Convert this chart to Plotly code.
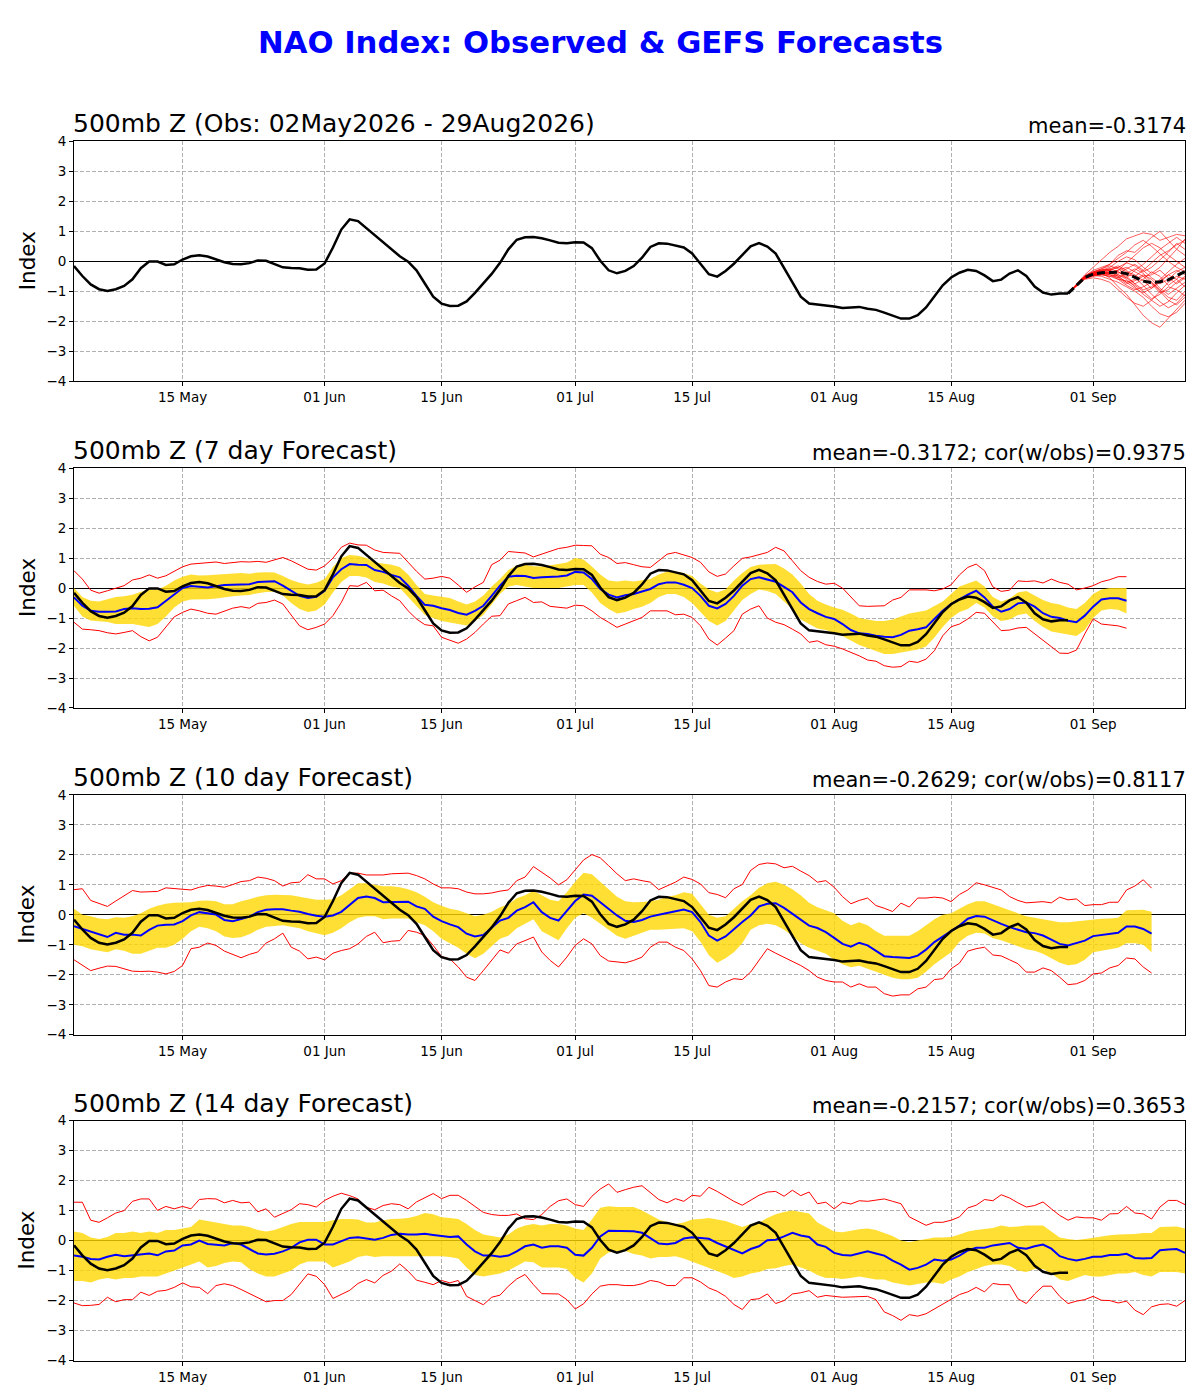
import pandas as pd
import plotly.graph_objects as go

START = "2026-05-02"

# ---------------- observed NAO (02 May - 29 Aug) ----------------
obs = [-0.16,-0.49,-0.77,-0.93,-0.99,-0.93,-0.82,-0.6,-0.23,-0.01,
       -0.01,-0.12,-0.1,0.06,0.17,0.2,0.16,0.06,-0.03,-0.09,
       -0.1,-0.06,0.03,0.02,-0.1,-0.2,-0.22,-0.23,-0.28,-0.27,
       -0.07,0.46,1.06,1.4,1.34,1.1,0.86,0.62,0.39,0.17,
       -0.01,-0.3,-0.74,-1.18,-1.41,-1.49,-1.48,-1.34,-1.05,-0.73,
       -0.42,-0.05,0.4,0.72,0.8,0.81,0.77,0.7,0.62,0.6,
       0.64,0.63,0.44,0.02,-0.3,-0.4,-0.32,-0.16,0.12,0.48,
       0.6,0.59,0.52,0.46,0.26,-0.1,-0.43,-0.51,-0.32,-0.08,
       0.21,0.5,0.61,0.49,0.26,-0.21,-0.71,-1.18,-1.41,-1.44,
       -1.47,-1.51,-1.56,-1.54,-1.52,-1.58,-1.62,-1.71,-1.82,-1.91,
       -1.91,-1.8,-1.54,-1.18,-0.8,-0.54,-0.38,-0.28,-0.32,-0.47,
       -0.66,-0.61,-0.41,-0.3,-0.49,-0.84,-1.04,-1.11,-1.07,-1.07]

# ---------------- GEFS ensemble (29 Aug - 12 Sep) ----------------
ens_start = "2026-08-29"
ens_mean = [-1.07,-0.8,-0.54,-0.43,-0.38,-0.37,-0.36,-0.41,-0.54,-0.66,-0.71,-0.68,-0.62,-0.49,-0.34]
members = [
    [-0.75,-0.45,-0.2,0.05,0.3,0.5,0.75,0.85,0.95,0.9,0.7,0.8,0.9,0.85],
    [-0.8,-0.55,-0.45,-0.4,-0.55,-0.85,-1.1,-1.45,-1.8,-2.05,-2.2,-1.9,-1.6,-1.3],
    [-0.78,-0.5,-0.3,-0.2,-0.1,0.2,0.35,0.3,0.55,0.8,1.0,0.7,0.4,0.2],
    [-0.82,-0.6,-0.55,-0.6,-0.7,-0.95,-1.2,-1.4,-1.5,-1.3,-1.0,-0.7,-0.5,-0.6],
    [-0.8,-0.52,-0.4,-0.3,-0.25,-0.15,-0.3,-0.55,-0.8,-1.1,-1.35,-1.55,-1.4,-1.1],
    [-0.76,-0.48,-0.35,-0.3,-0.2,0.0,0.15,0.05,-0.2,-0.4,-0.2,0.1,0.4,0.75],
    [-0.8,-0.58,-0.5,-0.45,-0.35,-0.5,-0.7,-0.6,-0.45,-0.6,-0.9,-1.1,-0.9,-0.7],
    [-0.79,-0.55,-0.42,-0.35,-0.4,-0.3,-0.05,0.2,0.45,0.6,0.45,0.2,0.0,-0.2],
    [-0.81,-0.56,-0.47,-0.5,-0.6,-0.7,-0.85,-1.0,-1.2,-1.5,-1.75,-1.85,-1.7,-1.4],
    [-0.78,-0.52,-0.38,-0.28,-0.3,-0.45,-0.55,-0.75,-0.95,-0.85,-0.6,-0.35,-0.1,0.1],
    [-0.8,-0.5,-0.35,-0.25,-0.15,-0.25,-0.45,-0.5,-0.3,-0.05,0.2,0.35,0.55,0.7],
    [-0.82,-0.58,-0.48,-0.45,-0.5,-0.6,-0.65,-0.8,-1.0,-1.25,-1.1,-0.85,-0.95,-1.15],
    [-0.79,-0.53,-0.4,-0.35,-0.3,-0.4,-0.25,-0.1,-0.3,-0.55,-0.75,-0.6,-0.35,-0.2],
    [-0.77,-0.5,-0.4,-0.38,-0.45,-0.55,-0.4,-0.25,-0.4,-0.7,-1.0,-1.3,-1.45,-1.2],
    [-0.8,-0.54,-0.43,-0.4,-0.42,-0.35,-0.5,-0.75,-0.6,-0.35,-0.5,-0.8,-0.6,-0.3],
    [-0.78,-0.5,-0.36,-0.25,-0.1,0.1,0.3,0.55,0.7,0.5,0.25,0.0,-0.2,-0.35],
    [-0.81,-0.57,-0.45,-0.42,-0.45,-0.6,-0.8,-0.95,-0.85,-0.7,-0.95,-1.2,-1.3,-1.0],
    [-0.8,-0.53,-0.41,-0.33,-0.28,-0.2,-0.35,-0.45,-0.65,-0.9,-0.7,-0.45,-0.6,-0.85],
    [-0.79,-0.55,-0.45,-0.4,-0.3,-0.2,-0.05,-0.15,-0.35,-0.2,0.05,0.3,0.6,0.4],
    [-0.8,-0.56,-0.46,-0.44,-0.5,-0.45,-0.6,-0.85,-1.1,-1.3,-1.5,-1.35,-1.05,-0.8],
    [-0.78,-0.51,-0.39,-0.32,-0.25,-0.35,-0.55,-0.3,-0.1,0.15,0.4,0.6,0.8,0.6],
    [-0.81,-0.54,-0.42,-0.38,-0.35,-0.5,-0.7,-0.9,-1.05,-0.9,-0.65,-0.45,-0.3,-0.45],
    [-0.79,-0.52,-0.4,-0.36,-0.38,-0.3,-0.2,-0.35,-0.5,-0.45,-0.3,-0.55,-0.75,-0.55],
    [-0.8,-0.55,-0.44,-0.41,-0.4,-0.55,-0.75,-0.65,-0.5,-0.75,-1.05,-0.95,-0.7,-0.5],
]

# ---------------- 7-day forecast ----------------
mean7 = [-0.31,-0.59,-0.76,-0.79,-0.79,-0.78,-0.7,-0.67,-0.7,-0.69,
         -0.64,-0.42,-0.2,0.0,0.07,0.04,0.02,0.06,0.1,0.11,
         0.13,0.13,0.2,0.21,0.23,0.08,-0.09,-0.26,-0.33,-0.29,
         -0.09,0.36,0.63,0.8,0.78,0.77,0.6,0.54,0.44,0.36,
         0.08,-0.26,-0.56,-0.59,-0.67,-0.73,-0.83,-0.89,-0.76,-0.59,
         -0.26,0.08,0.38,0.41,0.4,0.34,0.36,0.37,0.39,0.42,
         0.54,0.52,0.3,-0.03,-0.22,-0.31,-0.24,
         -0.2,-0.12,-0.03,0.13,0.19,0.19,0.11,
         0.0,-0.26,-0.59,-0.68,-0.53,-0.26,0.08,0.3,0.36,0.28,
         0.21,0.04,-0.14,-0.48,-0.7,-0.84,-0.96,-1.03,-1.2,-1.4,
         -1.51,-1.53,-1.59,-1.62,-1.64,-1.56,-1.42,-1.37,-1.31,-1.03,
         -0.76,-0.53,-0.37,-0.22,-0.09,-0.31,-0.62,-0.79,-0.7,-0.51,
         -0.48,-0.62,-0.84,-0.96,-1.0,-1.09,-1.14,-0.92,-0.62,-0.38,
         -0.34,-0.34,-0.42]
max7 = [0.58,0.3,-0.07,-0.17,-0.09,0.0,0.08,0.27,0.33,0.44,
        0.33,0.41,0.56,0.71,0.8,0.83,0.84,0.87,0.82,0.86,
        0.88,0.87,0.89,0.86,0.93,1.02,0.91,0.78,0.63,0.6,
        0.74,1.0,1.36,1.5,1.44,1.43,1.27,1.19,1.17,1.16,
        0.86,0.56,0.3,0.33,0.39,0.33,0.1,-0.14,0.04,0.19,
        0.78,0.93,1.22,1.19,1.17,1.04,1.13,1.24,1.32,1.36,
        1.43,1.42,1.41,1.13,1.02,0.82,0.85,
        0.78,0.71,0.69,0.91,1.13,1.19,1.11,
        1.02,0.86,0.54,0.39,0.47,0.74,0.99,1.04,1.11,1.19,
        1.36,1.24,0.91,0.58,0.36,0.22,0.13,0.16,0.0,-0.31,
        -0.59,-0.61,-0.61,-0.59,-0.4,-0.31,-0.06,-0.06,-0.06,-0.09,
        -0.03,0.11,0.44,0.69,0.8,0.58,0.04,-0.11,-0.07,0.24,
        0.22,0.24,0.17,0.3,0.19,0.13,-0.06,0.0,0.08,0.21,
        0.28,0.38,0.38]
min7 = [-1.14,-1.37,-1.39,-1.42,-1.49,-1.53,-1.48,-1.42,-1.62,-1.76,
        -1.64,-1.31,-0.96,-0.81,-0.7,-0.76,-0.84,-0.87,-0.76,-0.67,
        -0.62,-0.67,-0.51,-0.48,-0.4,-0.53,-0.9,-1.26,-1.39,-1.31,
        -1.2,-0.92,-0.48,0.08,0.06,0.19,-0.09,-0.07,-0.26,-0.42,
        -0.76,-1.03,-1.22,-1.26,-1.64,-1.73,-1.84,-1.7,-1.48,-1.2,
        -0.94,-0.92,-0.53,-0.42,-0.31,-0.48,-0.46,-0.61,-0.64,-0.67,
        -0.57,-0.59,-0.76,-0.98,-1.14,-1.31,-1.2,
        -1.09,-0.98,-0.76,-0.76,-0.76,-0.89,-0.87,
        -0.98,-1.26,-1.7,-1.9,-1.67,-1.42,-0.87,-0.7,-0.59,-1.0,
        -1.14,-1.22,-1.37,-1.53,-1.81,-1.76,-1.89,-1.94,-2.03,-2.14,
        -2.26,-2.4,-2.44,-2.59,-2.64,-2.62,-2.44,-2.48,-2.37,-2.09,
        -1.59,-1.29,-1.2,-1.03,-0.81,-0.84,-1.14,-1.42,-1.4,-1.33,
        -1.31,-1.53,-1.73,-1.98,-2.17,-2.18,-2.07,-1.53,-1.03,-1.2,
        -1.22,-1.26,-1.34]
hi7 = [0.0,-0.3,-0.42,-0.45,-0.37,-0.3,-0.27,-0.22,-0.12,-0.05,
       -0.05,0.08,0.25,0.38,0.45,0.42,0.43,0.45,0.47,0.47,
       0.5,0.48,0.52,0.53,0.52,0.4,0.27,0.18,0.12,0.18,
       0.3,0.7,1.0,1.1,1.08,1.0,0.85,0.82,0.78,0.7,
       0.45,0.1,-0.2,-0.25,-0.3,-0.33,-0.45,-0.55,-0.45,-0.25,
       0.05,0.3,0.6,0.75,0.78,0.73,0.72,0.75,0.8,0.85,
       1.0,0.95,0.72,0.45,0.25,0.22,0.25,
       0.22,0.25,0.3,0.45,0.55,0.55,0.5,
       0.4,0.15,-0.05,-0.15,-0.05,0.25,0.5,0.7,0.78,0.8,
       0.8,0.65,0.45,0.15,-0.2,-0.42,-0.55,-0.65,-0.72,-0.85,
       -1.0,-1.05,-1.1,-1.1,-1.05,-0.95,-0.85,-0.8,-0.75,-0.6,
       -0.45,-0.2,0.05,0.15,0.25,0.05,-0.3,-0.45,-0.35,-0.15,
       -0.1,-0.25,-0.4,-0.5,-0.55,-0.65,-0.7,-0.5,-0.2,-0.05,
       0.0,0.0,0.0]
lo7 = [-0.6,-0.95,-1.08,-1.1,-1.13,-1.2,-1.2,-1.2,-1.25,-1.3,
       -1.2,-0.95,-0.65,-0.45,-0.38,-0.38,-0.37,-0.35,-0.3,-0.27,
       -0.25,-0.23,-0.17,-0.13,-0.12,-0.25,-0.5,-0.7,-0.8,-0.75,
       -0.55,-0.15,0.2,0.4,0.4,0.35,0.2,0.15,0.05,0.0,
       -0.3,-0.6,-0.9,-1.0,-1.1,-1.15,-1.2,-1.25,-1.1,-0.9,
       -0.55,-0.2,0.05,0.1,0.05,0.0,0.0,0.0,0.0,0.05,
       0.1,0.1,-0.15,-0.5,-0.7,-0.85,-0.8,
       -0.7,-0.62,-0.5,-0.3,-0.2,-0.2,-0.3,
       -0.5,-0.8,-1.1,-1.25,-1.1,-0.75,-0.4,-0.2,-0.05,-0.1,
       -0.2,-0.45,-0.7,-1.05,-1.2,-1.35,-1.4,-1.5,-1.6,-1.75,
       -1.9,-2.0,-2.1,-2.2,-2.2,-2.15,-2.1,-2.05,-1.95,-1.65,
       -1.3,-1.0,-0.8,-0.7,-0.5,-0.65,-0.95,-1.1,-1.05,-0.9,
       -0.85,-1.1,-1.3,-1.45,-1.5,-1.55,-1.6,-1.4,-1.0,-0.75,
       -0.7,-0.72,-0.85]

# ---------------- 10-day forecast ----------------
mean10 = [-0.38,-0.47,-0.58,-0.66,-0.74,-0.6,-0.66,-0.66,-0.69,-0.5,
          -0.36,-0.33,-0.32,-0.21,-0.02,0.09,0.06,0.01,-0.17,-0.21,
          -0.14,-0.06,0.09,0.17,0.19,0.19,0.14,0.1,0.03,-0.03,
          -0.06,-0.02,0.1,0.33,0.56,0.61,0.56,0.42,0.42,0.42,
          0.44,0.28,0.2,-0.06,-0.21,-0.32,-0.41,-0.63,-0.72,-0.67,
          -0.43,-0.19,-0.1,0.14,0.26,0.42,0.09,-0.1,-0.19,0.14,
          0.46,0.68,0.64,0.42,0.2,-0.02,-0.2,
          -0.24,-0.17,-0.06,0.0,0.06,0.11,0.18,
          0.09,-0.24,-0.69,-0.86,-0.72,-0.47,-0.24,-0.02,0.28,0.37,
          0.39,0.23,0.03,-0.17,-0.36,-0.44,-0.58,-0.77,-0.97,-1.06,
          -0.93,-1.02,-1.21,-1.38,-1.41,-1.43,-1.44,-1.36,-1.16,-0.91,
          -0.72,-0.52,-0.36,-0.13,-0.04,-0.06,-0.19,-0.3,-0.41,-0.5,
          -0.58,-0.61,-0.69,-0.83,-0.97,-1.02,-0.93,-0.86,-0.71,-0.67,
          -0.63,-0.6,-0.39,-0.39,-0.47,-0.63]
max10 = [0.84,0.87,0.48,0.37,0.28,0.46,0.64,0.81,0.76,0.77,
         0.78,0.9,0.87,0.84,0.83,0.92,0.98,0.96,0.92,1.01,
         1.11,1.14,1.26,1.22,1.14,0.96,1.07,1.09,1.34,1.2,
         1.2,1.03,1.14,1.39,1.39,1.33,1.34,1.33,1.37,1.39,
         1.39,1.31,1.2,1.03,0.9,0.9,0.87,0.76,0.7,0.7,
         0.73,0.79,0.83,1.14,1.26,1.61,1.42,1.23,1.0,1.17,
         1.5,1.83,2.01,1.9,1.64,1.37,1.14,
         1.2,1.14,1.09,0.84,0.96,1.09,1.26,
         1.18,1.03,0.74,0.68,0.57,0.87,1.01,1.48,1.68,1.73,
         1.7,1.57,1.62,1.46,1.31,1.09,1.14,0.92,0.61,0.37,
         0.48,0.56,0.31,0.22,0.11,0.39,0.26,0.56,0.56,0.59,
         0.56,0.44,0.68,0.83,1.07,1.0,0.92,0.83,0.61,0.48,
         0.4,0.42,0.44,0.4,0.59,0.5,0.53,0.31,0.34,0.34,
         0.42,0.42,0.83,0.96,1.17,0.89]
min10 = [-1.5,-1.69,-1.86,-1.78,-1.71,-1.72,-1.8,-1.88,-1.89,-1.88,
         -1.91,-1.97,-1.89,-1.69,-1.13,-1.08,-0.94,-1.02,-1.21,-1.32,
         -1.43,-1.32,-1.24,-0.94,-0.8,-0.61,-1.08,-1.21,-1.47,-1.41,
         -1.5,-1.28,-1.19,-1.13,-0.97,-0.72,-0.58,-0.93,-0.88,-0.86,
         -0.52,-0.58,-0.69,-1.02,-1.39,-1.47,-1.74,-2.08,-2.19,-1.86,
         -1.5,-1.17,-1.28,-0.97,-0.86,-0.74,-1.24,-1.52,-1.74,-1.41,
         -1.02,-0.8,-0.97,-1.36,-1.54,-1.56,-1.6,
         -1.52,-1.41,-1.08,-0.91,-0.91,-1.08,-1.19,
         -1.47,-1.86,-2.36,-2.41,-2.24,-2.13,-2.16,-1.91,-1.52,-1.13,
         -1.28,-1.41,-1.54,-1.69,-1.86,-2.08,-2.19,-2.24,-2.24,-2.41,
         -2.3,-2.41,-2.41,-2.63,-2.71,-2.67,-2.67,-2.47,-2.41,-2.16,
         -2.13,-1.8,-1.61,-1.21,-1.13,-1.08,-1.34,-1.37,-1.5,-1.63,
         -1.91,-1.91,-1.77,-1.86,-2.08,-2.33,-2.3,-2.19,-1.97,-1.94,
         -1.77,-1.69,-1.44,-1.47,-1.74,-1.94]
hi10 = [0.2,0.0,-0.05,-0.12,-0.15,-0.08,-0.1,-0.05,0.05,0.2,
        0.3,0.37,0.4,0.4,0.42,0.47,0.48,0.45,0.35,0.35,
        0.45,0.52,0.6,0.65,0.67,0.66,0.65,0.6,0.55,0.5,
        0.5,0.52,0.65,0.85,1.05,1.05,1.0,0.95,0.95,0.92,
        0.85,0.75,0.6,0.42,0.3,0.2,0.15,0.05,-0.05,0.0,
        0.1,0.25,0.35,0.55,0.65,0.8,0.65,0.5,0.45,0.75,
        1.1,1.4,1.35,1.1,0.85,0.6,0.45,
        0.42,0.43,0.45,0.5,0.6,0.65,0.75,
        0.7,0.35,0.0,-0.1,-0.05,0.2,0.45,0.65,0.9,1.05,
        1.1,1.0,0.85,0.65,0.4,0.25,0.15,0.05,-0.2,-0.35,
        -0.25,-0.35,-0.55,-0.7,-0.7,-0.7,-0.7,-0.55,-0.35,-0.15,
        0.0,0.05,0.2,0.35,0.45,0.45,0.35,0.25,0.15,0.05,
        -0.05,-0.1,-0.15,-0.2,-0.25,-0.25,-0.22,-0.2,-0.15,-0.13,
        -0.12,-0.1,0.15,0.17,0.17,0.1]
lo10 = [-1.0,-1.05,-1.15,-1.2,-1.25,-1.15,-1.2,-1.3,-1.3,-1.2,
        -1.1,-1.1,-1.0,-0.8,-0.55,-0.4,-0.45,-0.55,-0.72,-0.77,
        -0.75,-0.65,-0.5,-0.4,-0.38,-0.35,-0.4,-0.45,-0.55,-0.62,
        -0.68,-0.6,-0.45,-0.25,-0.1,-0.05,-0.05,-0.15,-0.12,-0.12,
        -0.12,-0.25,-0.35,-0.55,-0.8,-0.95,-1.1,-1.3,-1.45,-1.3,
        -1.05,-0.8,-0.7,-0.45,-0.3,-0.15,-0.55,-0.7,-0.85,-0.45,
        -0.1,0.05,-0.1,-0.3,-0.5,-0.7,-0.8,
        -0.7,-0.6,-0.5,-0.5,-0.48,-0.48,-0.45,
        -0.55,-0.9,-1.35,-1.6,-1.45,-1.25,-0.95,-0.5,-0.35,-0.3,
        -0.35,-0.5,-0.7,-0.95,-1.1,-1.2,-1.3,-1.5,-1.65,-1.75,
        -1.7,-1.8,-1.9,-2.0,-2.1,-2.15,-2.15,-2.1,-1.9,-1.65,
        -1.45,-1.25,-0.9,-0.7,-0.6,-0.62,-0.78,-0.85,-0.95,-1.05,
        -1.15,-1.2,-1.3,-1.45,-1.6,-1.68,-1.65,-1.5,-1.25,-1.2,
        -1.15,-1.1,-0.95,-0.95,-1.0,-1.25]

# ---------------- 14-day forecast ----------------
mean14 = [-0.5,-0.54,-0.61,-0.63,-0.54,-0.47,-0.52,-0.49,-0.47,-0.43,
          -0.49,-0.36,-0.33,-0.16,-0.13,0.0,-0.11,-0.13,-0.16,-0.08,
          -0.13,-0.28,-0.43,-0.46,-0.44,-0.36,-0.24,-0.06,0.03,0.03,
          -0.13,-0.13,-0.02,0.09,0.11,0.08,0.03,0.09,0.19,0.23,
          0.2,0.2,0.23,0.19,0.16,0.12,0.14,-0.13,-0.36,-0.5,
          -0.5,-0.54,-0.5,-0.36,-0.19,-0.13,-0.24,-0.19,-0.19,-0.24,
          -0.47,-0.5,-0.24,0.14,0.33,0.32,0.32,
          0.31,0.26,0.09,-0.1,-0.12,-0.08,0.07,
          0.11,0.09,0.06,-0.08,-0.19,-0.32,-0.43,-0.28,-0.19,0.01,
          0.03,0.14,0.26,0.17,0.12,-0.13,-0.21,-0.41,-0.48,-0.5,
          -0.44,-0.36,-0.43,-0.5,-0.67,-0.8,-0.97,-0.91,-0.8,-0.63,
          -0.67,-0.63,-0.5,-0.33,-0.24,-0.24,-0.16,-0.13,-0.08,-0.24,
          -0.27,-0.19,-0.13,-0.27,-0.52,-0.61,-0.66,-0.61,-0.54,-0.54,
          -0.48,-0.48,-0.44,-0.58,-0.6,-0.58,-0.32,-0.3,-0.28,-0.41]
max14 = [1.28,1.28,0.68,0.61,0.76,0.92,1.0,1.31,1.39,1.39,
         1.01,1.14,1.06,1.14,1.06,1.37,1.4,1.39,1.26,1.34,
         1.26,1.28,0.96,1.06,0.78,0.9,1.03,1.23,1.2,1.12,
         1.34,1.48,1.58,1.5,1.39,1.11,1.03,1.17,1.23,1.2,
         1.06,1.29,1.42,1.57,1.4,1.51,1.51,1.34,1.14,0.94,
         0.87,0.84,0.84,0.89,0.73,0.7,0.87,1.14,1.33,1.39,
         1.2,1.14,1.48,1.72,1.89,1.61,1.7,
         1.78,1.83,1.59,1.37,1.26,1.4,1.31,
         1.51,1.48,1.78,1.64,1.48,1.31,1.18,1.34,1.51,1.62,
         1.64,1.48,1.68,1.5,1.62,1.23,1.28,1.06,1.28,1.22,
         1.33,1.31,1.34,1.39,1.31,1.23,0.79,0.64,0.51,0.61,
         0.61,0.68,0.79,1.09,1.18,1.37,1.33,1.53,1.42,1.26,
         1.12,1.17,1.29,1.06,0.84,0.68,0.79,0.76,0.76,0.68,
         0.89,0.9,1.14,0.92,0.89,0.72,1.12,1.34,1.34,1.2]
min14 = [-2.08,-2.17,-2.16,-2.13,-1.89,-2.04,-1.97,-1.97,-1.72,-1.83,
         -1.69,-1.66,-1.56,-1.41,-1.54,-1.56,-1.77,-1.5,-1.44,-1.5,
         -1.63,-1.77,-1.91,-2.04,-2.0,-2.0,-1.8,-1.47,-1.11,-1.19,
         -1.47,-1.93,-1.8,-1.66,-1.43,-1.3,-1.41,-1.16,-1.02,-0.78,
         -1.02,-1.32,-1.39,-1.47,-1.33,-1.41,-1.33,-1.86,-2.0,-2.14,
         -1.89,-1.82,-1.52,-1.28,-1.13,-1.47,-1.77,-1.78,-1.78,-1.97,
         -2.28,-2.11,-1.78,-1.52,-1.47,-1.47,-1.5,
         -1.5,-1.44,-1.33,-1.38,-1.5,-1.5,-1.24,
         -1.24,-1.38,-1.58,-1.69,-1.86,-2.13,-2.3,-1.97,-1.94,-1.78,
         -2.1,-2.0,-1.78,-1.74,-1.67,-1.89,-1.83,-1.86,-1.89,-1.88,
         -1.86,-1.86,-1.97,-2.38,-2.5,-2.66,-2.47,-2.52,-2.44,-2.28,
         -2.13,-1.97,-1.8,-1.71,-1.56,-1.71,-1.43,-1.47,-1.47,-1.94,
         -2.1,-1.78,-1.52,-1.52,-1.86,-2.1,-2.02,-1.97,-1.86,-1.99,
         -2.0,-2.08,-2.02,-2.32,-2.47,-2.21,-2.13,-2.11,-2.19,-2.0]
hi14 = [0.3,0.25,0.1,0.05,0.12,0.25,0.25,0.3,0.25,0.3,
        0.25,0.35,0.35,0.4,0.45,0.7,0.65,0.6,0.55,0.5,
        0.5,0.45,0.35,0.3,0.35,0.45,0.55,0.62,0.62,0.62,
        0.62,0.68,0.72,0.72,0.7,0.6,0.6,0.68,0.72,0.73,
        0.75,0.82,0.92,0.88,0.78,0.75,0.72,0.55,0.35,0.2,
        0.15,0.1,0.2,0.4,0.5,0.55,0.5,0.55,0.55,0.5,
        0.4,0.35,0.7,1.1,1.15,1.12,1.12,
        1.12,1.0,0.85,0.7,0.62,0.55,0.6,
        0.7,0.72,0.75,0.7,0.65,0.55,0.45,0.55,0.6,0.75,
        0.88,0.95,1.0,0.95,0.9,0.6,0.45,0.3,0.28,0.33,
        0.38,0.4,0.35,0.25,0.15,0.0,-0.05,0.0,0.05,0.1,
        0.1,0.12,0.2,0.3,0.35,0.38,0.42,0.5,0.45,0.47,
        0.5,0.5,0.5,0.3,0.1,0.05,0.02,0.05,0.1,0.15,
        0.18,0.2,0.2,0.22,0.25,0.25,0.45,0.45,0.47,0.4]
lo14 = [-1.35,-1.35,-1.4,-1.3,-1.25,-1.3,-1.25,-1.25,-1.2,-1.2,
        -1.2,-1.1,-1.0,-0.9,-0.8,-0.7,-0.9,-0.85,-0.75,-0.7,
        -0.72,-0.95,-1.1,-1.2,-1.2,-1.1,-1.0,-0.8,-0.7,-0.7,
        -0.7,-0.9,-0.8,-0.7,-0.55,-0.5,-0.55,-0.52,-0.52,-0.52,
        -0.5,-0.5,-0.5,-0.52,-0.52,-0.55,-0.6,-0.9,-1.15,-1.2,
        -1.15,-1.1,-1.0,-0.85,-0.7,-0.72,-0.9,-0.9,-0.9,-0.95,
        -1.25,-1.4,-1.1,-0.6,-0.4,-0.35,-0.35,
        -0.45,-0.5,-0.6,-0.55,-0.55,-0.52,-0.6,
        -0.7,-0.8,-0.9,-1.0,-1.12,-1.25,-1.2,-1.1,-1.05,-0.95,
        -0.92,-0.85,-0.8,-0.9,-1.0,-1.15,-1.25,-1.25,-1.28,-1.25,
        -1.2,-1.25,-1.3,-1.3,-1.4,-1.45,-1.5,-1.45,-1.4,-1.4,
        -1.45,-1.3,-1.2,-1.05,-0.95,-0.85,-0.8,-0.8,-0.85,-1.0,
        -1.05,-0.95,-0.95,-1.1,-1.3,-1.35,-1.25,-1.15,-1.2,-1.2,
        -1.15,-1.1,-1.1,-1.05,-1.15,-1.2,-1.05,-1.05,-1.05,-1.1]

titles_left = ["500mb Z (Obs: 02May2026 - 29Aug2026)", "500mb Z (7 day Forecast)",
               "500mb Z (10 day Forecast)", "500mb Z (14 day Forecast)"]
titles_right = ["mean=-0.3174", "mean=-0.3172; cor(w/obs)=0.9375",
                "mean=-0.2629; cor(w/obs)=0.8117", "mean=-0.2157; cor(w/obs)=0.3653"]
tick_dates = ["2026-05-15", "2026-06-01", "2026-06-15", "2026-07-01",
              "2026-07-15", "2026-08-01", "2026-08-15", "2026-09-01"]
tick_text = ["15 May", "01 Jun", "15 Jun", "01 Jul", "15 Jul", "01 Aug", "15 Aug", "01 Sep"]
y_ticks = [-4, -3, -2, -1, 0, 1, 2, 3, 4]

# ---------------- layout geometry ----------------
W, H = 1200, 1400
FONT = "DejaVu Sans"
# target pixel positions, corrected for the page offset seen in the rendered screenshot
OFF_X, OFF_Y, SC_Y = 8.0, 14.5, 0.9893

def px(x):          # horizontal target pixel -> paper fraction
    return (x - OFF_X) / W

def py(y):          # vertical target pixel (from top) -> paper fraction
    return 1 - ((y - OFF_Y) / SC_Y) / H

panel_px = [(140, 380), (467, 707), (794, 1034), (1120, 1360)]
x0_px, x1_px = 74, 1185

def dates(start, n):
    return pd.date_range(start, periods=n, freq="D")

fig = go.Figure()

def ax(i):
    return ("x" if i == 0 else f"x{i+1}", "y" if i == 0 else f"y{i+1}")

# panel 1: observed + ensemble
xa, ya = ax(0)
ens_dates = dates(ens_start, len(ens_mean))
for m in members:
    fig.add_trace(go.Scatter(x=ens_dates, y=[obs[-1]] + m, mode="lines",
                             line=dict(color="rgba(255,0,0,0.8)", width=0.8),
                             xaxis=xa, yaxis=ya, showlegend=False, hoverinfo="skip"))
fig.add_trace(go.Scatter(x=dates(START, len(obs)), y=obs, mode="lines",
                         line=dict(color="black", width=2.5), xaxis=xa, yaxis=ya, showlegend=False))
fig.add_trace(go.Scatter(x=ens_dates, y=ens_mean, mode="lines",
                         line=dict(color="black", width=3, dash="8px,4px"), xaxis=xa, yaxis=ya,
                         showlegend=False))

fc = [(mean7, max7, min7, hi7, lo7), (mean10, max10, min10, hi10, lo10), (mean14, max14, min14, hi14, lo14)]
for k, (mn, mx, mi, hi, lo) in enumerate(fc):
    xa, ya = ax(k + 1)
    d = dates(START, len(mn))
    fig.add_trace(go.Scatter(x=d, y=lo, mode="lines", line=dict(width=0, color="rgba(0,0,0,0)"),
                             xaxis=xa, yaxis=ya, showlegend=False, hoverinfo="skip"))
    fig.add_trace(go.Scatter(x=d, y=hi, mode="lines", line=dict(width=0, color="rgba(0,0,0,0)"),
                             fill="tonexty", fillcolor="rgba(255,215,0,0.8)",
                             xaxis=xa, yaxis=ya, showlegend=False, hoverinfo="skip"))
    for s in (mx, mi):
        fig.add_trace(go.Scatter(x=d, y=s, mode="lines", line=dict(color="red", width=1),
                                 xaxis=xa, yaxis=ya, showlegend=False))
    fig.add_trace(go.Scatter(x=d, y=mn, mode="lines", line=dict(color="blue", width=2),
                             xaxis=xa, yaxis=ya, showlegend=False))
    fig.add_trace(go.Scatter(x=dates(START, len(obs)), y=obs, mode="lines",
                             line=dict(color="black", width=2.5), xaxis=xa, yaxis=ya, showlegend=False))

annotations = [dict(text="<b>NAO Index: Observed &amp; GEFS Forecasts</b>", x=px(600), y=py(41),
                    xref="paper", yref="paper", xanchor="center", yanchor="middle", showarrow=False,
                    font=dict(family=FONT, size=30.7, color="blue"))]
layout_axes = {}
for i, (top, bot) in enumerate(panel_px):
    xname = "xaxis" if i == 0 else f"xaxis{i+1}"
    yname = "yaxis" if i == 0 else f"yaxis{i+1}"
    yref = "y" if i == 0 else f"y{i+1}"
    layout_axes[xname] = dict(
        domain=[px(x0_px), px(x1_px)], range=["2026-05-02", "2026-09-12"], anchor=yref,
        tickvals=tick_dates, ticktext=tick_text, showgrid=True, gridcolor="#b0b0b0",
        griddash="4px,2px", gridwidth=0.8, showline=True, linecolor="black", linewidth=1, mirror=True,
        ticks="outside", ticklen=4, tickcolor="black", zeroline=False,
        tickfont=dict(family=FONT, size=13.5, color="black"))
    layout_axes[yname] = dict(
        domain=[py(bot), py(top)], range=[-4, 4], anchor="x" if i == 0 else f"x{i+1}",
        tickvals=y_ticks, showgrid=True, gridcolor="#b0b0b0", griddash="4px,2px", gridwidth=0.8,
        showline=True, linecolor="black", linewidth=1, mirror=True, ticks="outside", ticklen=4,
        tickcolor="black", zeroline=True, zerolinecolor="black", zerolinewidth=1,
        tickfont=dict(family=FONT, size=13.5, color="black"))
    annotations.append(dict(text=titles_left[i], x=px(x0_px - 3), y=py(top - 1), xref="paper",
                            yref="paper", xanchor="left", yanchor="bottom", showarrow=False,
                            font=dict(family=FONT, size=25, color="black")))
    annotations.append(dict(text=titles_right[i], x=px(x1_px + 3), y=py(top - 1), xref="paper",
                            yref="paper", xanchor="right", yanchor="bottom", showarrow=False,
                            font=dict(family=FONT, size=21, color="black")))
    annotations.append(dict(text="Index", x=px(27), y=py((top + bot) / 2), xref="paper",
                            yref="paper", xanchor="center", yanchor="middle", textangle=-90,
                            showarrow=False, font=dict(family=FONT, size=21.5, color="black")))

fig.update_layout(width=W, height=H, margin=dict(l=0, r=0, t=0, b=0),
                  paper_bgcolor="white", plot_bgcolor="white", annotations=annotations,
                  showlegend=False, **layout_axes)

fig.write_html("out.html")
